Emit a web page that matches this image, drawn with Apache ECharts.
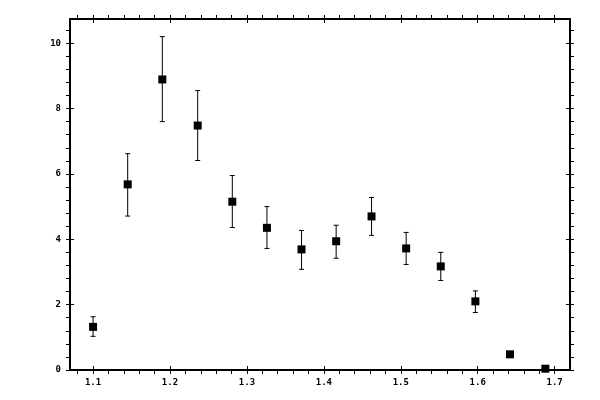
<!DOCTYPE html>
<html>
<head>
<meta charset="utf-8">
<script src="https://cdn.jsdelivr.net/npm/echarts@6/dist/echarts.min.js"></script>
<style>
  html, body { margin: 0; padding: 0; background: #fff; }
  #chart { width: 600px; height: 400px; }
</style>
</head>
<body>
<div id="chart"></div>
<script>
// measured points, with the ends of each error bar
const xValues = [1.100, 1.145, 1.190, 1.236, 1.281, 1.326, 1.371, 1.416, 1.462, 1.507, 1.552, 1.597, 1.642, 1.688];
const yValues = [1.32, 5.68, 8.89, 7.48, 5.15, 4.35, 3.69, 3.94, 4.70, 3.72, 3.17, 2.10, 0.48, 0.04];
const yLow = [1.03, 4.71, 7.60, 6.41, 4.36, 3.72, 3.08, 3.42, 4.12, 3.23, 2.74, 1.76, 0.41, 0.00];
const yHigh = [1.63, 6.62, 10.20, 8.55, 5.95, 5.00, 4.27, 4.43, 5.28, 4.21, 3.60, 2.42, 0.55, 0.07];

// tick labels
const xTicks = [1.1, 1.2, 1.3, 1.4, 1.5, 1.6, 1.7];
const yTicks = [0, 2, 4, 6, 8, 10];

const xMin = 1.07, xMax = 1.72;
const yMin = 0, yMax = 10.74;

const chart = echarts.init(document.getElementById("chart"));

const labelFont = { color: "#000", fontFamily: "DejaVu Sans Mono", fontSize: 9, fontWeight: "bold" };

// one axis with outside ticks + minor ticks, and a twin with inside ticks so majors cross the line
function axisPair(pos, min, max, ticks, showLabels, margin) {
  return [
    {
      type: "value", position: pos, min: min, max: max, splitNumber: 6,
      axisLine: { show: true, onZero: false, lineStyle: { color: "#000", width: 2 } },
      axisTick: { show: true, inside: false, length: 4, customValues: ticks, lineStyle: { color: "#000" } },
      minorTick: { show: true, splitNumber: 5, length: 4, lineStyle: { color: "#000" } },
      axisLabel: Object.assign({ show: showLabels, margin: margin, customValues: ticks }, labelFont),
      splitLine: { show: false },
    },
    {
      type: "value", position: pos, min: min, max: max, splitNumber: 6,
      axisLine: { show: false, onZero: false },
      axisTick: { show: true, inside: true, length: 4, customValues: ticks, lineStyle: { color: "#000" } },
      axisLabel: { show: false },
      splitLine: { show: false },
    },
  ];
}

const points = xValues.map((x, i) => [x, yValues[i]]);
const bars = xValues.map((x, i) => [x, yLow[i], yHigh[i]]);

const option = {
  animation: false,
  grid: { left: 70, right: 30, top: 19, bottom: 30 },
  xAxis: axisPair("bottom", xMin, xMax, xTicks, true, 8).concat(axisPair("top", xMin, xMax, xTicks, false, 8)),
  yAxis: axisPair("left", yMin, yMax, yTicks, true, 9).concat(axisPair("right", yMin, yMax, yTicks, false, 9)),
  series: [
    {
      type: "custom",
      xAxisIndex: 0,
      yAxisIndex: 0,
      data: bars,
      encode: { x: 0, y: [1, 2] },
      renderItem: function (params, api) {
        const x = api.value(0);
        const top = api.coord([x, api.value(2)]);
        const bot = api.coord([x, api.value(1)]);
        const cap = 2.5;
        const st = { stroke: "#000", lineWidth: 1 };
        return {
          type: "group",
          children: [
            { type: "line", shape: { x1: top[0], y1: top[1], x2: bot[0], y2: bot[1] }, style: st },
            { type: "line", shape: { x1: top[0] - cap, y1: top[1], x2: top[0] + cap, y2: top[1] }, style: st },
            { type: "line", shape: { x1: bot[0] - cap, y1: bot[1], x2: bot[0] + cap, y2: bot[1] }, style: st },
          ],
        };
      },
      z: 2,
    },
    {
      type: "scatter",
      xAxisIndex: 0,
      yAxisIndex: 0,
      symbol: "rect",
      symbolSize: 8,
      itemStyle: { color: "#000", opacity: 1 },
      data: points,
      z: 3,
    },
  ],
};

chart.setOption(option);
</script>
</body>
</html>
